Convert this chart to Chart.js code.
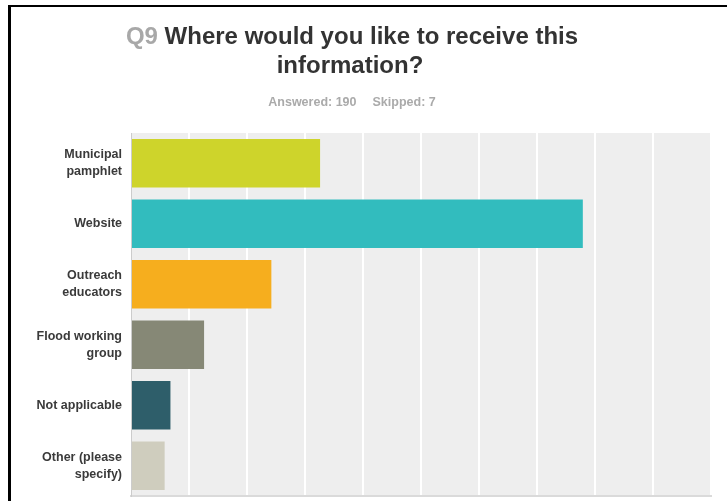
<!DOCTYPE html>
<html>
<head>
<meta charset="utf-8">
<title>Q9 Where would you like to receive this information?</title>
<script src="https://cdn.jsdelivr.net/npm/chart.js@4.4.1/dist/chart.umd.min.js"></script>
<style>
	html, body {
		margin: 0;
		padding: 0;
		background: #ffffff;
		overflow: hidden;
	}
	#wrap {
		position: relative;
		width: 727px;
		height: 501px;
	}
	#surveyChart {
		position: absolute;
		left: 0;
		top: 0;
	}
	/* 外框：只有上边和左边 */
	#frame {
		position: absolute;
		left: 8px;
		top: 5px;
		right: 0;
		bottom: 0;
		border-top: 2px solid #000;
		border-left: 3px solid #000;
		pointer-events: none;
	}
</style>
</head>
<body>
<div id="wrap">
	<canvas id="surveyChart" width="727" height="501"></canvas>
	<div id="frame"></div>
</div>
<script>
// 问题和统计
const questionNo = 'Q9';
const questionLines = ['Where would you like to receive this', 'information?'];
const answeredText = 'Answered: 190';
const skippedText = 'Skipped: 7';

// 选项（多行标签）
const categories = [
	['Municipal', 'pamphlet'],
	['Website'],
	['Outreach', 'educators'],
	['Flood working', 'group'],
	['Not applicable'],
	['Other (please', 'specify)']
];

// 各选项百分比 (%)
const percentValues = [32.6, 77.9, 24.2, 12.6, 6.8, 5.8];

// 柱子颜色
const barColors = ['#ced42b', '#32bcbe', '#f6ae1e', '#868876', '#2e5e6a', '#cfcdbe'];

// 横轴刻度 0% - 100%
const axisMin = 0;
const axisMax = 100;
const axisStep = 10;

const FONT = "'Liberation Sans', Arial, Helvetica, sans-serif";

let surveyChart = null;

// 绘图区背景
const plotBackground = {
	id: 'plotBackground',
	beforeDraw(chart) {
		const { ctx, chartArea } = chart;
		ctx.save();
		ctx.fillStyle = '#eeeeee';
		ctx.fillRect(chartArea.left, chartArea.top, chartArea.right - chartArea.left, chartArea.bottom - chartArea.top);
		ctx.restore();
	}
};

// 标题：题号灰色，题目深色，下方是答题统计
const questionTitle = {
	id: 'questionTitle',
	afterDraw(chart) {
		const ctx = chart.ctx;
		const cx = 352;
		ctx.save();
		ctx.textBaseline = 'alphabetic';
		ctx.textAlign = 'left';

		// 第一行：Q9 + 题目
		ctx.font = 'bold 24px ' + FONT;
		const noText = questionNo + ' ';
		const noWidth = ctx.measureText(noText).width;
		const lineWidth = ctx.measureText(questionLines[0]).width;
		let x = cx - (noWidth + lineWidth) / 2;
		ctx.fillStyle = '#a8a8a8';
		ctx.fillText(noText, x, 44);
		ctx.fillStyle = '#333333';
		ctx.fillText(questionLines[0], x + noWidth, 44);

		// 第二行
		ctx.textAlign = 'center';
		ctx.fillText(questionLines[1], cx - 2, 73);

		// 答题统计
		ctx.font = 'bold 12.5px ' + FONT;
		ctx.fillStyle = '#aaaaaa';
		ctx.textAlign = 'left';
		const gap = 16;
		const w1 = ctx.measureText(answeredText).width;
		const w2 = ctx.measureText(skippedText).width;
		x = cx - (w1 + gap + w2) / 2;
		ctx.fillText(answeredText, x, 106);
		ctx.fillText(skippedText, x + w1 + gap, 106);
		ctx.restore();
	}
};

window.addEventListener('load', function() {
	initChart();
});

// 初始化图表
function initChart() {
	const ctx = document.getElementById('surveyChart').getContext('2d');
	surveyChart = new Chart(ctx, {
		type: 'bar',
		data: {
			labels: categories,
			datasets: [{
				data: percentValues,
				backgroundColor: barColors,
				borderWidth: 0,
				barPercentage: 0.8,
				categoryPercentage: 1.0
			}]
		},
		options: {
			indexAxis: 'y',
			responsive: false,
			animation: false,
			devicePixelRatio: 1,
			layout: {
				padding: { top: 133, right: 16, bottom: 5, left: 0 }
			},
			plugins: {
				legend: { display: false },
				title: { display: false },
				tooltip: { enabled: false }
			},
			scales: {
				x: {
					min: axisMin,
					max: axisMax,
					ticks: { display: false, stepSize: axisStep },
					grid: { color: '#ffffff', lineWidth: 2, drawTicks: false },
					border: { color: '#dadada', width: 2 },
					afterFit: function(scale) {
						scale.height = 0;
						scale.paddingLeft = 0;
						scale.paddingRight = 0;
					}
				},
				y: {
					grid: { display: false, drawTicks: false },
					border: { color: '#cccccc', width: 1 },
					ticks: {
						color: '#3a3a3a',
						padding: 9,
						font: { family: FONT, size: 12.5, weight: 'bold', lineHeight: 1.35 }
					},
					afterFit: function(scale) {
						// 固定轴宽，标签上下不再额外占位
						scale.width = 131;
						scale.paddingTop = 0;
						scale.paddingBottom = 0;
					}
				}
			}
		},
		plugins: [plotBackground, questionTitle]
	});
}
</script>
</body>
</html>
